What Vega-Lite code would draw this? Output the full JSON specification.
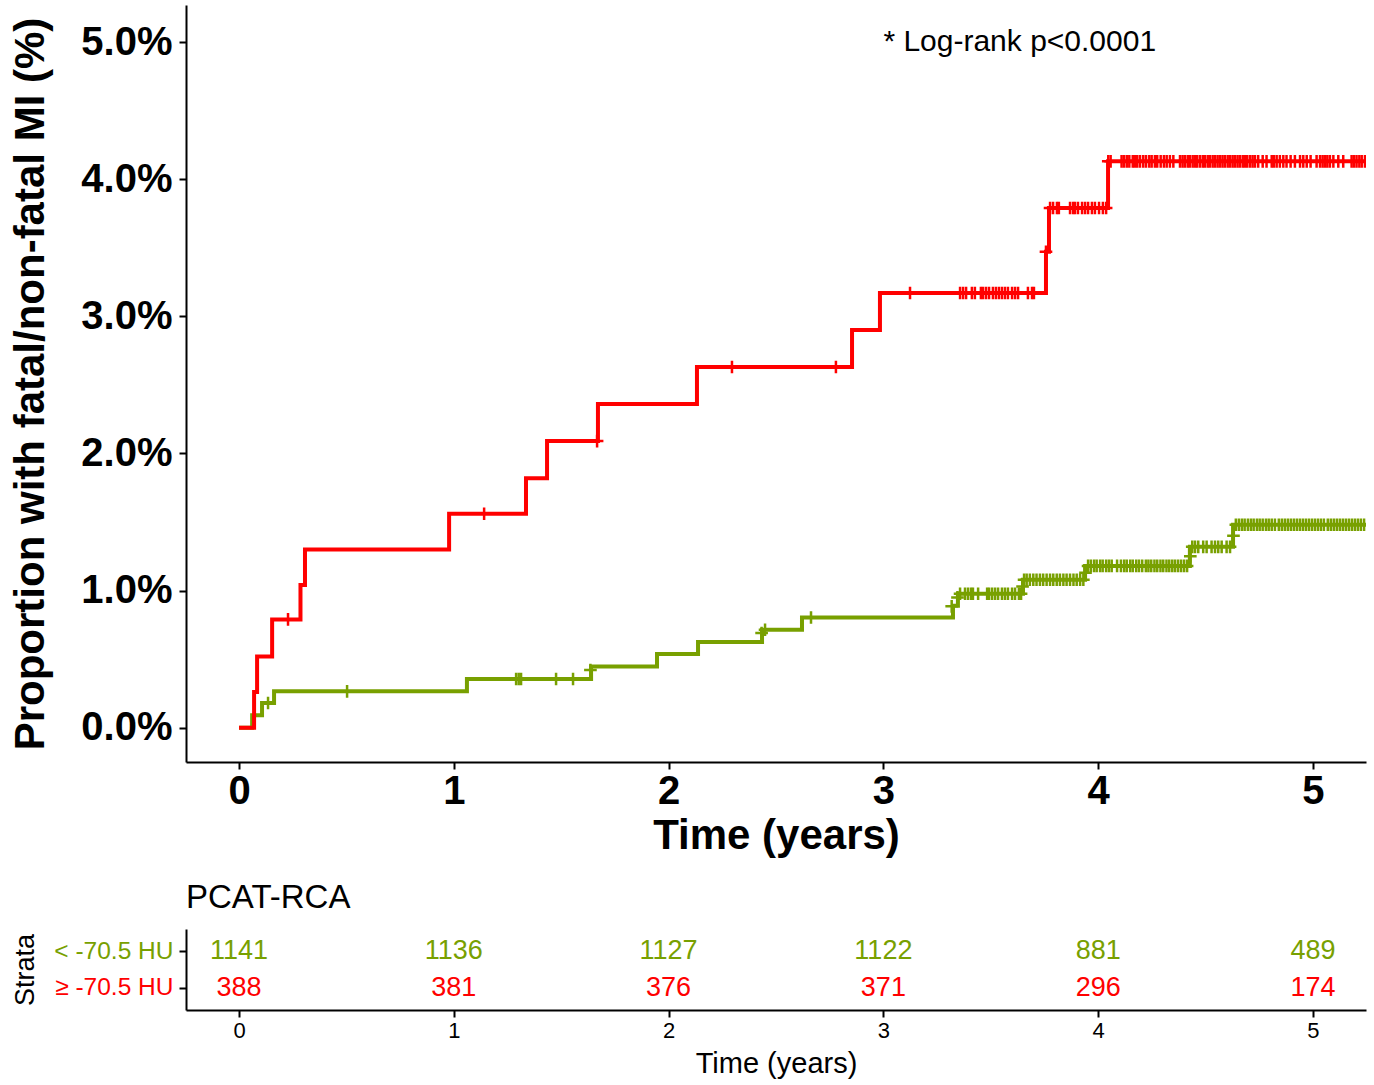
{
  "$schema": "https://vega.github.io/schema/vega-lite/v6.json",
  "padding": {"left": 9, "top": 5, "right": 8, "bottom": 5},
  "background": "white",
  "config": {
    "view": {"stroke": null},
    "font": "Liberation Sans",
    "axis": {"grid": false, "domainColor": "black", "tickColor": "black", "labelColor": "black", "titleColor": "black", "domainWidth": 2, "tickWidth": 2, "tickSize": 7}
  },
  "datasets": {
    "curves": [
      {"s": "< -70.5 HU", "t": 0, "p": 0},
      {"s": "< -70.5 HU", "t": 0.061, "p": 0.09},
      {"s": "< -70.5 HU", "t": 0.107, "p": 0.18},
      {"s": "< -70.5 HU", "t": 0.163, "p": 0.265},
      {"s": "< -70.5 HU", "t": 1.061, "p": 0.355},
      {"s": "< -70.5 HU", "t": 1.639, "p": 0.447},
      {"s": "< -70.5 HU", "t": 1.946, "p": 0.537},
      {"s": "< -70.5 HU", "t": 2.137, "p": 0.625},
      {"s": "< -70.5 HU", "t": 2.435, "p": 0.714},
      {"s": "< -70.5 HU", "t": 2.621, "p": 0.804},
      {"s": "< -70.5 HU", "t": 3.324, "p": 0.89},
      {"s": "< -70.5 HU", "t": 3.347, "p": 0.977},
      {"s": "< -70.5 HU", "t": 3.65, "p": 1.079},
      {"s": "< -70.5 HU", "t": 3.939, "p": 1.18},
      {"s": "< -70.5 HU", "t": 4.427, "p": 1.319},
      {"s": "< -70.5 HU", "t": 4.628, "p": 1.48},
      {"s": "< -70.5 HU", "t": 5.26, "p": 1.48},
      {"s": "≥ -70.5 HU", "t": 0, "p": 0},
      {"s": "≥ -70.5 HU", "t": 0.07, "p": 0.26},
      {"s": "≥ -70.5 HU", "t": 0.084, "p": 0.52},
      {"s": "≥ -70.5 HU", "t": 0.154, "p": 0.79},
      {"s": "≥ -70.5 HU", "t": 0.286, "p": 1.04},
      {"s": "≥ -70.5 HU", "t": 0.307, "p": 1.3},
      {"s": "≥ -70.5 HU", "t": 0.978, "p": 1.56},
      {"s": "≥ -70.5 HU", "t": 1.336, "p": 1.82},
      {"s": "≥ -70.5 HU", "t": 1.434, "p": 2.09},
      {"s": "≥ -70.5 HU", "t": 1.671, "p": 2.36},
      {"s": "≥ -70.5 HU", "t": 2.132, "p": 2.63},
      {"s": "≥ -70.5 HU", "t": 2.854, "p": 2.9},
      {"s": "≥ -70.5 HU", "t": 2.984, "p": 3.17},
      {"s": "≥ -70.5 HU", "t": 3.757, "p": 3.47},
      {"s": "≥ -70.5 HU", "t": 3.771, "p": 3.79},
      {"s": "≥ -70.5 HU", "t": 4.046, "p": 4.13},
      {"s": "≥ -70.5 HU", "t": 5.26, "p": 4.13}
    ],
    "censors": [
      {"s": "< -70.5 HU", "t": 0.135, "p": 0.18},
      {"s": "< -70.5 HU", "t": 0.503, "p": 0.265},
      {"s": "< -70.5 HU", "t": 1.29, "p": 0.355},
      {"s": "< -70.5 HU", "t": 1.302, "p": 0.355},
      {"s": "< -70.5 HU", "t": 1.313, "p": 0.355},
      {"s": "< -70.5 HU", "t": 1.476, "p": 0.355},
      {"s": "< -70.5 HU", "t": 1.555, "p": 0.355},
      {"s": "< -70.5 HU", "t": 1.636, "p": 0.42},
      {"s": "< -70.5 HU", "t": 2.433, "p": 0.69},
      {"s": "< -70.5 HU", "t": 2.449, "p": 0.714},
      {"s": "< -70.5 HU", "t": 2.663, "p": 0.804},
      {"s": "< -70.5 HU", "t": 3.318, "p": 0.885},
      {"s": "< -70.5 HU", "t": 3.345, "p": 0.95},
      {"s": "< -70.5 HU", "t": 3.357, "p": 0.977},
      {"s": "< -70.5 HU", "t": 3.38, "p": 0.977},
      {"s": "< -70.5 HU", "t": 3.394, "p": 0.977},
      {"s": "< -70.5 HU", "t": 3.408, "p": 0.977},
      {"s": "< -70.5 HU", "t": 3.417, "p": 0.977},
      {"s": "< -70.5 HU", "t": 3.441, "p": 0.977},
      {"s": "< -70.5 HU", "t": 3.483, "p": 0.977},
      {"s": "< -70.5 HU", "t": 3.492, "p": 0.977},
      {"s": "< -70.5 HU", "t": 3.506, "p": 0.977},
      {"s": "< -70.5 HU", "t": 3.52, "p": 0.977},
      {"s": "< -70.5 HU", "t": 3.534, "p": 0.977},
      {"s": "< -70.5 HU", "t": 3.552, "p": 0.977},
      {"s": "< -70.5 HU", "t": 3.566, "p": 0.977},
      {"s": "< -70.5 HU", "t": 3.58, "p": 0.977},
      {"s": "< -70.5 HU", "t": 3.599, "p": 0.977},
      {"s": "< -70.5 HU", "t": 3.613, "p": 0.977},
      {"s": "< -70.5 HU", "t": 3.631, "p": 0.977},
      {"s": "< -70.5 HU", "t": 3.641, "p": 0.977},
      {"s": "< -70.5 HU", "t": 3.648, "p": 1.03},
      {"s": "< -70.5 HU", "t": 3.655, "p": 1.079},
      {"s": "< -70.5 HU", "t": 3.667, "p": 1.079},
      {"s": "< -70.5 HU", "t": 3.682, "p": 1.079},
      {"s": "< -70.5 HU", "t": 3.698, "p": 1.079},
      {"s": "< -70.5 HU", "t": 3.713, "p": 1.079},
      {"s": "< -70.5 HU", "t": 3.729, "p": 1.079},
      {"s": "< -70.5 HU", "t": 3.744, "p": 1.079},
      {"s": "< -70.5 HU", "t": 3.76, "p": 1.079},
      {"s": "< -70.5 HU", "t": 3.776, "p": 1.079},
      {"s": "< -70.5 HU", "t": 3.791, "p": 1.079},
      {"s": "< -70.5 HU", "t": 3.807, "p": 1.079},
      {"s": "< -70.5 HU", "t": 3.822, "p": 1.079},
      {"s": "< -70.5 HU", "t": 3.838, "p": 1.079},
      {"s": "< -70.5 HU", "t": 3.853, "p": 1.079},
      {"s": "< -70.5 HU", "t": 3.869, "p": 1.079},
      {"s": "< -70.5 HU", "t": 3.885, "p": 1.079},
      {"s": "< -70.5 HU", "t": 3.9, "p": 1.079},
      {"s": "< -70.5 HU", "t": 3.916, "p": 1.079},
      {"s": "< -70.5 HU", "t": 3.931, "p": 1.079},
      {"s": "< -70.5 HU", "t": 3.941, "p": 1.13},
      {"s": "< -70.5 HU", "t": 3.953, "p": 1.18},
      {"s": "< -70.5 HU", "t": 3.966, "p": 1.18},
      {"s": "< -70.5 HU", "t": 3.981, "p": 1.18},
      {"s": "< -70.5 HU", "t": 3.993, "p": 1.18},
      {"s": "< -70.5 HU", "t": 4.009, "p": 1.18},
      {"s": "< -70.5 HU", "t": 4.021, "p": 1.18},
      {"s": "< -70.5 HU", "t": 4.037, "p": 1.18},
      {"s": "< -70.5 HU", "t": 4.05, "p": 1.18},
      {"s": "< -70.5 HU", "t": 4.063, "p": 1.18},
      {"s": "< -70.5 HU", "t": 4.088, "p": 1.18},
      {"s": "< -70.5 HU", "t": 4.106, "p": 1.18},
      {"s": "< -70.5 HU", "t": 4.121, "p": 1.18},
      {"s": "< -70.5 HU", "t": 4.133, "p": 1.18},
      {"s": "< -70.5 HU", "t": 4.149, "p": 1.18},
      {"s": "< -70.5 HU", "t": 4.161, "p": 1.18},
      {"s": "< -70.5 HU", "t": 4.177, "p": 1.18},
      {"s": "< -70.5 HU", "t": 4.19, "p": 1.18},
      {"s": "< -70.5 HU", "t": 4.205, "p": 1.18},
      {"s": "< -70.5 HU", "t": 4.222, "p": 1.18},
      {"s": "< -70.5 HU", "t": 4.234, "p": 1.18},
      {"s": "< -70.5 HU", "t": 4.247, "p": 1.18},
      {"s": "< -70.5 HU", "t": 4.262, "p": 1.18},
      {"s": "< -70.5 HU", "t": 4.275, "p": 1.18},
      {"s": "< -70.5 HU", "t": 4.29, "p": 1.18},
      {"s": "< -70.5 HU", "t": 4.303, "p": 1.18},
      {"s": "< -70.5 HU", "t": 4.318, "p": 1.18},
      {"s": "< -70.5 HU", "t": 4.331, "p": 1.18},
      {"s": "< -70.5 HU", "t": 4.345, "p": 1.18},
      {"s": "< -70.5 HU", "t": 4.358, "p": 1.18},
      {"s": "< -70.5 HU", "t": 4.372, "p": 1.18},
      {"s": "< -70.5 HU", "t": 4.386, "p": 1.18},
      {"s": "< -70.5 HU", "t": 4.4, "p": 1.18},
      {"s": "< -70.5 HU", "t": 4.414, "p": 1.18},
      {"s": "< -70.5 HU", "t": 4.429, "p": 1.25},
      {"s": "< -70.5 HU", "t": 4.438, "p": 1.319},
      {"s": "< -70.5 HU", "t": 4.451, "p": 1.319},
      {"s": "< -70.5 HU", "t": 4.466, "p": 1.319},
      {"s": "< -70.5 HU", "t": 4.489, "p": 1.319},
      {"s": "< -70.5 HU", "t": 4.505, "p": 1.319},
      {"s": "< -70.5 HU", "t": 4.528, "p": 1.319},
      {"s": "< -70.5 HU", "t": 4.544, "p": 1.319},
      {"s": "< -70.5 HU", "t": 4.559, "p": 1.319},
      {"s": "< -70.5 HU", "t": 4.575, "p": 1.319},
      {"s": "< -70.5 HU", "t": 4.598, "p": 1.319},
      {"s": "< -70.5 HU", "t": 4.614, "p": 1.319},
      {"s": "< -70.5 HU", "t": 4.63, "p": 1.4},
      {"s": "< -70.5 HU", "t": 4.641, "p": 1.48},
      {"s": "< -70.5 HU", "t": 4.655, "p": 1.48},
      {"s": "< -70.5 HU", "t": 4.669, "p": 1.48},
      {"s": "< -70.5 HU", "t": 4.682, "p": 1.48},
      {"s": "< -70.5 HU", "t": 4.697, "p": 1.48},
      {"s": "< -70.5 HU", "t": 4.711, "p": 1.48},
      {"s": "< -70.5 HU", "t": 4.724, "p": 1.48},
      {"s": "< -70.5 HU", "t": 4.739, "p": 1.48},
      {"s": "< -70.5 HU", "t": 4.752, "p": 1.48},
      {"s": "< -70.5 HU", "t": 4.766, "p": 1.48},
      {"s": "< -70.5 HU", "t": 4.781, "p": 1.48},
      {"s": "< -70.5 HU", "t": 4.794, "p": 1.48},
      {"s": "< -70.5 HU", "t": 4.808, "p": 1.48},
      {"s": "< -70.5 HU", "t": 4.823, "p": 1.48},
      {"s": "< -70.5 HU", "t": 4.841, "p": 1.48},
      {"s": "< -70.5 HU", "t": 4.855, "p": 1.48},
      {"s": "< -70.5 HU", "t": 4.869, "p": 1.48},
      {"s": "< -70.5 HU", "t": 4.883, "p": 1.48},
      {"s": "< -70.5 HU", "t": 4.897, "p": 1.48},
      {"s": "< -70.5 HU", "t": 4.911, "p": 1.48},
      {"s": "< -70.5 HU", "t": 4.925, "p": 1.48},
      {"s": "< -70.5 HU", "t": 4.939, "p": 1.48},
      {"s": "< -70.5 HU", "t": 4.953, "p": 1.48},
      {"s": "< -70.5 HU", "t": 4.967, "p": 1.48},
      {"s": "< -70.5 HU", "t": 4.981, "p": 1.48},
      {"s": "< -70.5 HU", "t": 4.995, "p": 1.48},
      {"s": "< -70.5 HU", "t": 5.009, "p": 1.48},
      {"s": "< -70.5 HU", "t": 5.023, "p": 1.48},
      {"s": "< -70.5 HU", "t": 5.037, "p": 1.48},
      {"s": "< -70.5 HU", "t": 5.051, "p": 1.48},
      {"s": "< -70.5 HU", "t": 5.069, "p": 1.48},
      {"s": "< -70.5 HU", "t": 5.083, "p": 1.48},
      {"s": "< -70.5 HU", "t": 5.097, "p": 1.48},
      {"s": "< -70.5 HU", "t": 5.111, "p": 1.48},
      {"s": "< -70.5 HU", "t": 5.125, "p": 1.48},
      {"s": "< -70.5 HU", "t": 5.139, "p": 1.48},
      {"s": "< -70.5 HU", "t": 5.153, "p": 1.48},
      {"s": "< -70.5 HU", "t": 5.167, "p": 1.48},
      {"s": "< -70.5 HU", "t": 5.181, "p": 1.48},
      {"s": "< -70.5 HU", "t": 5.195, "p": 1.48},
      {"s": "< -70.5 HU", "t": 5.209, "p": 1.48},
      {"s": "< -70.5 HU", "t": 5.223, "p": 1.48},
      {"s": "< -70.5 HU", "t": 5.238, "p": 1.48},
      {"s": "≥ -70.5 HU", "t": 0.228, "p": 0.79},
      {"s": "≥ -70.5 HU", "t": 1.141, "p": 1.56},
      {"s": "≥ -70.5 HU", "t": 1.667, "p": 2.09},
      {"s": "≥ -70.5 HU", "t": 2.295, "p": 2.63},
      {"s": "≥ -70.5 HU", "t": 2.779, "p": 2.63},
      {"s": "≥ -70.5 HU", "t": 3.124, "p": 3.17},
      {"s": "≥ -70.5 HU", "t": 3.357, "p": 3.17},
      {"s": "≥ -70.5 HU", "t": 3.371, "p": 3.17},
      {"s": "≥ -70.5 HU", "t": 3.385, "p": 3.17},
      {"s": "≥ -70.5 HU", "t": 3.412, "p": 3.17},
      {"s": "≥ -70.5 HU", "t": 3.426, "p": 3.17},
      {"s": "≥ -70.5 HU", "t": 3.454, "p": 3.17},
      {"s": "≥ -70.5 HU", "t": 3.464, "p": 3.17},
      {"s": "≥ -70.5 HU", "t": 3.478, "p": 3.17},
      {"s": "≥ -70.5 HU", "t": 3.492, "p": 3.17},
      {"s": "≥ -70.5 HU", "t": 3.51, "p": 3.17},
      {"s": "≥ -70.5 HU", "t": 3.524, "p": 3.17},
      {"s": "≥ -70.5 HU", "t": 3.538, "p": 3.17},
      {"s": "≥ -70.5 HU", "t": 3.552, "p": 3.17},
      {"s": "≥ -70.5 HU", "t": 3.566, "p": 3.17},
      {"s": "≥ -70.5 HU", "t": 3.58, "p": 3.17},
      {"s": "≥ -70.5 HU", "t": 3.599, "p": 3.17},
      {"s": "≥ -70.5 HU", "t": 3.613, "p": 3.17},
      {"s": "≥ -70.5 HU", "t": 3.627, "p": 3.17},
      {"s": "≥ -70.5 HU", "t": 3.673, "p": 3.17},
      {"s": "≥ -70.5 HU", "t": 3.692, "p": 3.17},
      {"s": "≥ -70.5 HU", "t": 3.701, "p": 3.17},
      {"s": "≥ -70.5 HU", "t": 3.757, "p": 3.47},
      {"s": "≥ -70.5 HU", "t": 3.776, "p": 3.79},
      {"s": "≥ -70.5 HU", "t": 3.79, "p": 3.79},
      {"s": "≥ -70.5 HU", "t": 3.808, "p": 3.79},
      {"s": "≥ -70.5 HU", "t": 3.817, "p": 3.79},
      {"s": "≥ -70.5 HU", "t": 3.869, "p": 3.79},
      {"s": "≥ -70.5 HU", "t": 3.883, "p": 3.79},
      {"s": "≥ -70.5 HU", "t": 3.892, "p": 3.79},
      {"s": "≥ -70.5 HU", "t": 3.906, "p": 3.79},
      {"s": "≥ -70.5 HU", "t": 3.925, "p": 3.79},
      {"s": "≥ -70.5 HU", "t": 3.939, "p": 3.79},
      {"s": "≥ -70.5 HU", "t": 3.953, "p": 3.79},
      {"s": "≥ -70.5 HU", "t": 3.971, "p": 3.79},
      {"s": "≥ -70.5 HU", "t": 3.985, "p": 3.79},
      {"s": "≥ -70.5 HU", "t": 4.004, "p": 3.79},
      {"s": "≥ -70.5 HU", "t": 4.022, "p": 3.79},
      {"s": "≥ -70.5 HU", "t": 4.037, "p": 3.79},
      {"s": "≥ -70.5 HU", "t": 4.047, "p": 4.13},
      {"s": "≥ -70.5 HU", "t": 4.058, "p": 4.13},
      {"s": "≥ -70.5 HU", "t": 4.109, "p": 4.13},
      {"s": "≥ -70.5 HU", "t": 4.12, "p": 4.13},
      {"s": "≥ -70.5 HU", "t": 4.133, "p": 4.13},
      {"s": "≥ -70.5 HU", "t": 4.145, "p": 4.13},
      {"s": "≥ -70.5 HU", "t": 4.161, "p": 4.13},
      {"s": "≥ -70.5 HU", "t": 4.171, "p": 4.13},
      {"s": "≥ -70.5 HU", "t": 4.182, "p": 4.13},
      {"s": "≥ -70.5 HU", "t": 4.195, "p": 4.13},
      {"s": "≥ -70.5 HU", "t": 4.21, "p": 4.13},
      {"s": "≥ -70.5 HU", "t": 4.223, "p": 4.13},
      {"s": "≥ -70.5 HU", "t": 4.238, "p": 4.13},
      {"s": "≥ -70.5 HU", "t": 4.249, "p": 4.13},
      {"s": "≥ -70.5 HU", "t": 4.264, "p": 4.13},
      {"s": "≥ -70.5 HU", "t": 4.275, "p": 4.13},
      {"s": "≥ -70.5 HU", "t": 4.291, "p": 4.13},
      {"s": "≥ -70.5 HU", "t": 4.306, "p": 4.13},
      {"s": "≥ -70.5 HU", "t": 4.319, "p": 4.13},
      {"s": "≥ -70.5 HU", "t": 4.334, "p": 4.13},
      {"s": "≥ -70.5 HU", "t": 4.35, "p": 4.13},
      {"s": "≥ -70.5 HU", "t": 4.381, "p": 4.13},
      {"s": "≥ -70.5 HU", "t": 4.393, "p": 4.13},
      {"s": "≥ -70.5 HU", "t": 4.404, "p": 4.13},
      {"s": "≥ -70.5 HU", "t": 4.417, "p": 4.13},
      {"s": "≥ -70.5 HU", "t": 4.427, "p": 4.13},
      {"s": "≥ -70.5 HU", "t": 4.44, "p": 4.13},
      {"s": "≥ -70.5 HU", "t": 4.451, "p": 4.13},
      {"s": "≥ -70.5 HU", "t": 4.461, "p": 4.13},
      {"s": "≥ -70.5 HU", "t": 4.474, "p": 4.13},
      {"s": "≥ -70.5 HU", "t": 4.487, "p": 4.13},
      {"s": "≥ -70.5 HU", "t": 4.497, "p": 4.13},
      {"s": "≥ -70.5 HU", "t": 4.51, "p": 4.13},
      {"s": "≥ -70.5 HU", "t": 4.52, "p": 4.13},
      {"s": "≥ -70.5 HU", "t": 4.533, "p": 4.13},
      {"s": "≥ -70.5 HU", "t": 4.544, "p": 4.13},
      {"s": "≥ -70.5 HU", "t": 4.556, "p": 4.13},
      {"s": "≥ -70.5 HU", "t": 4.567, "p": 4.13},
      {"s": "≥ -70.5 HU", "t": 4.579, "p": 4.13},
      {"s": "≥ -70.5 HU", "t": 4.59, "p": 4.13},
      {"s": "≥ -70.5 HU", "t": 4.603, "p": 4.13},
      {"s": "≥ -70.5 HU", "t": 4.614, "p": 4.13},
      {"s": "≥ -70.5 HU", "t": 4.626, "p": 4.13},
      {"s": "≥ -70.5 HU", "t": 4.637, "p": 4.13},
      {"s": "≥ -70.5 HU", "t": 4.649, "p": 4.13},
      {"s": "≥ -70.5 HU", "t": 4.66, "p": 4.13},
      {"s": "≥ -70.5 HU", "t": 4.673, "p": 4.13},
      {"s": "≥ -70.5 HU", "t": 4.683, "p": 4.13},
      {"s": "≥ -70.5 HU", "t": 4.694, "p": 4.13},
      {"s": "≥ -70.5 HU", "t": 4.707, "p": 4.13},
      {"s": "≥ -70.5 HU", "t": 4.719, "p": 4.13},
      {"s": "≥ -70.5 HU", "t": 4.73, "p": 4.13},
      {"s": "≥ -70.5 HU", "t": 4.745, "p": 4.13},
      {"s": "≥ -70.5 HU", "t": 4.766, "p": 4.13},
      {"s": "≥ -70.5 HU", "t": 4.784, "p": 4.13},
      {"s": "≥ -70.5 HU", "t": 4.808, "p": 4.13},
      {"s": "≥ -70.5 HU", "t": 4.818, "p": 4.13},
      {"s": "≥ -70.5 HU", "t": 4.831, "p": 4.13},
      {"s": "≥ -70.5 HU", "t": 4.846, "p": 4.13},
      {"s": "≥ -70.5 HU", "t": 4.862, "p": 4.13},
      {"s": "≥ -70.5 HU", "t": 4.877, "p": 4.13},
      {"s": "≥ -70.5 HU", "t": 4.896, "p": 4.13},
      {"s": "≥ -70.5 HU", "t": 4.916, "p": 4.13},
      {"s": "≥ -70.5 HU", "t": 4.94, "p": 4.13},
      {"s": "≥ -70.5 HU", "t": 4.955, "p": 4.13},
      {"s": "≥ -70.5 HU", "t": 4.971, "p": 4.13},
      {"s": "≥ -70.5 HU", "t": 4.989, "p": 4.13},
      {"s": "≥ -70.5 HU", "t": 5.017, "p": 4.13},
      {"s": "≥ -70.5 HU", "t": 5.033, "p": 4.13},
      {"s": "≥ -70.5 HU", "t": 5.045, "p": 4.13},
      {"s": "≥ -70.5 HU", "t": 5.056, "p": 4.13},
      {"s": "≥ -70.5 HU", "t": 5.067, "p": 4.13},
      {"s": "≥ -70.5 HU", "t": 5.079, "p": 4.13},
      {"s": "≥ -70.5 HU", "t": 5.095, "p": 4.13},
      {"s": "≥ -70.5 HU", "t": 5.118, "p": 4.13},
      {"s": "≥ -70.5 HU", "t": 5.141, "p": 4.13},
      {"s": "≥ -70.5 HU", "t": 5.18, "p": 4.13},
      {"s": "≥ -70.5 HU", "t": 5.191, "p": 4.13},
      {"s": "≥ -70.5 HU", "t": 5.203, "p": 4.13},
      {"s": "≥ -70.5 HU", "t": 5.216, "p": 4.13},
      {"s": "≥ -70.5 HU", "t": 5.227, "p": 4.13},
      {"s": "≥ -70.5 HU", "t": 5.242, "p": 4.13}
    ],
    "risk": [
      {"s": "< -70.5 HU", "t": 0, "n": 1141},
      {"s": "< -70.5 HU", "t": 1, "n": 1136},
      {"s": "< -70.5 HU", "t": 2, "n": 1127},
      {"s": "< -70.5 HU", "t": 3, "n": 1122},
      {"s": "< -70.5 HU", "t": 4, "n": 881},
      {"s": "< -70.5 HU", "t": 5, "n": 489},
      {"s": "≥ -70.5 HU", "t": 0, "n": 388},
      {"s": "≥ -70.5 HU", "t": 1, "n": 381},
      {"s": "≥ -70.5 HU", "t": 2, "n": 376},
      {"s": "≥ -70.5 HU", "t": 3, "n": 371},
      {"s": "≥ -70.5 HU", "t": 4, "n": 296},
      {"s": "≥ -70.5 HU", "t": 5, "n": 174}
    ],
    "note": [
      {"t": 3.0, "p": 5.0, "label": "* Log-rank p<0.0001"}
    ]
  },
  "spacing": 26,
  "vconcat": [
    {
      "width": 1180,
      "height": 757,
      "layer": [
        {
          "data": {"name": "curves"},
          "mark": {"type": "line", "interpolate": "step-after", "strokeWidth": 4, "clip": true},
          "encoding": {
            "x": {"field": "t", "type": "quantitative", "scale": {"domain": [-0.247, 5.247], "nice": false, "zero": false},
              "axis": {"values": [0, 1, 2, 3, 4, 5], "format": "d", "labelFontSize": 40, "labelFontWeight": "bold", "labelPadding": 2, "title": "Time (years)", "titleFontSize": 42, "titleFontWeight": "bold", "titlePadding": 4}},
            "y": {"field": "p", "type": "quantitative", "scale": {"domain": [-0.25, 5.27], "nice": false, "zero": false},
              "axis": {"values": [0, 1, 2, 3, 4, 5], "labelExpr": "format(datum.value, '.1f') + '%'", "labelFontSize": 40, "labelFontWeight": "bold", "labelPadding": 7, "title": "Proportion with fatal/non-fatal MI (%)", "titleFontSize": 42, "titleFontWeight": "bold", "titlePadding": 28}},
            "color": {"field": "s", "type": "nominal", "scale": {"domain": ["< -70.5 HU", "≥ -70.5 HU"], "range": ["#78A000", "#FF0000"]}, "legend": null}
          }
        },
        {
          "data": {"name": "censors"},
          "mark": {"type": "point", "shape": "M0,-1L0,1M-1,0L1,0", "filled": false, "strokeWidth": 2.5, "size": 160, "opacity": 1, "clip": true},
          "encoding": {
            "x": {"field": "t", "type": "quantitative"},
            "y": {"field": "p", "type": "quantitative"},
            "color": {"field": "s", "type": "nominal", "legend": null}
          }
        },
        {
          "data": {"name": "note"},
          "mark": {"type": "text", "align": "left", "baseline": "middle", "fontSize": 30, "color": "black"},
          "encoding": {
            "x": {"field": "t", "type": "quantitative"},
            "y": {"field": "p", "type": "quantitative"},
            "text": {"field": "label"}
          }
        }
      ]
    },
    {
      "width": 1180,
      "height": 81,
      "title": {"text": "PCAT-RCA", "anchor": "start", "frame": "group", "fontSize": 33, "fontWeight": "normal", "color": "black", "offset": 14},
      "data": {"name": "risk"},
      "mark": {"type": "text", "fontSize": 27, "baseline": "middle"},
      "encoding": {
        "x": {"field": "t", "type": "quantitative", "scale": {"domain": [-0.247, 5.247], "nice": false, "zero": false},
          "axis": {"values": [0, 1, 2, 3, 4, 5], "format": "d", "labelFontSize": 22, "labelPadding": 3, "title": "Time (years)", "titleFontSize": 29, "titleFontWeight": "normal", "titlePadding": 8}},
        "y": {"field": "s", "type": "nominal", "scale": {"type": "point", "domain": ["< -70.5 HU", "≥ -70.5 HU"], "padding": 0.6},
          "axis": {"labelFontSize": 24.5, "labelPadding": 6, "labelColor": {"expr": "datum.value == '< -70.5 HU' ? '#78A000' : '#FF0000'"}, "title": "Strata", "titleFontSize": 27, "titleFontWeight": "normal", "titlePadding": 14}},
        "text": {"field": "n", "type": "quantitative"},
        "color": {"field": "s", "type": "nominal", "scale": {"domain": ["< -70.5 HU", "≥ -70.5 HU"], "range": ["#78A000", "#FF0000"]}, "legend": null}
      }
    }
  ]
}
